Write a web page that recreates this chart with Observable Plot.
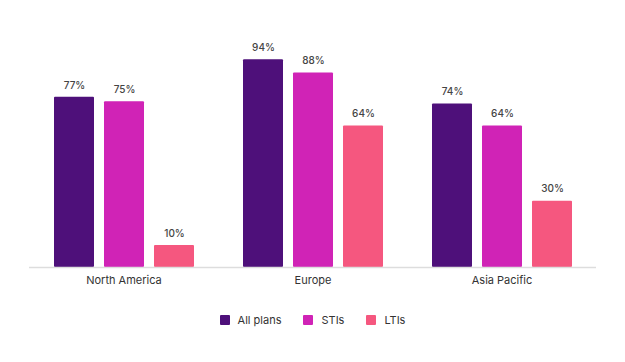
<!DOCTYPE html>
<html>
<head>
<meta charset="utf-8">
<script src="https://cdn.jsdelivr.net/npm/d3@7"></script>
<script src="https://cdn.jsdelivr.net/npm/@observablehq/plot@0.6"></script>
<style>
  body { margin: 0; background: #fff; font-family: Inter, "Noto Sans", sans-serif; }
  #chart { width: 625px; }
  .legend { display: flex; justify-content: center; align-items: center; gap: 22px; margin-top: 13px; font-size: 11px; color: #333; }
  .legend .item { display: flex; align-items: center; }
  .legend .sw { width: 10px; height: 10px; border-radius: 1px; margin-right: 8px; }
</style>
</head>
<body>
<div id="chart"></div>
<script>
const regions = ["North America", "Europe", "Asia Pacific"];
const series = ["All plans", "STIs", "LTIs"];
const allPlans = [77, 94, 74];
const stis = [75, 88, 64];
const ltis = [10, 64, 30];
const colors = ["#4e107a", "#d023b6", "#f5577f"];

const valuesBySeries = [allPlans, stis, ltis];
const data = [];
regions.forEach((r, i) => series.forEach((s, j) => data.push({region: r, series: s, value: valuesBySeries[j][i]})));

const plot = Plot.plot({
  width: 625,
  height: 300,
  marginTop: 46,
  marginBottom: 33,
  marginLeft: 28,
  marginRight: 28,
  style: {fontFamily: "Inter, 'Noto Sans', sans-serif", background: "#fff"},
  fx: {domain: regions, padding: 0, label: null, axis: "bottom", tickSize: 0, tickPadding: 9},
  x: {domain: series, axis: null, padding: 0.2, paddingOuter: 0.48},
  y: {domain: [0, 100], axis: null},
  color: {domain: series, range: colors},
  marks: [
    Plot.barY(data, {fx: "region", x: "series", y: "value", fill: "series", rx: 1}),
    Plot.text(data, {fx: "region", x: "series", y: "value", text: d => d.value + "%", dy: -12, fontSize: 10, fontWeight: 500, fill: "#444"}),
    Plot.ruleY([0], {stroke: "#ddd", strokeWidth: 1.5})
  ]
});
plot.querySelectorAll("[aria-label='fx-axis tick label'] text").forEach(t => { t.style.fontSize = "11px"; t.style.fill = "#333"; });
const fxg = plot.querySelector("[aria-label='fx-axis tick label']");
if (fxg) { fxg.setAttribute("font-size", "11"); fxg.setAttribute("fill", "#333"); }
document.getElementById("chart").appendChild(plot);

const legend = document.createElement("div");
legend.className = "legend";
series.forEach((s, i) => {
  const item = document.createElement("div");
  item.className = "item";
  const sw = document.createElement("span");
  sw.className = "sw";
  sw.style.background = colors[i];
  const lab = document.createElement("span");
  lab.textContent = s;
  item.appendChild(sw);
  item.appendChild(lab);
  legend.appendChild(item);
});
document.getElementById("chart").appendChild(legend);
</script>
</body>
</html>
